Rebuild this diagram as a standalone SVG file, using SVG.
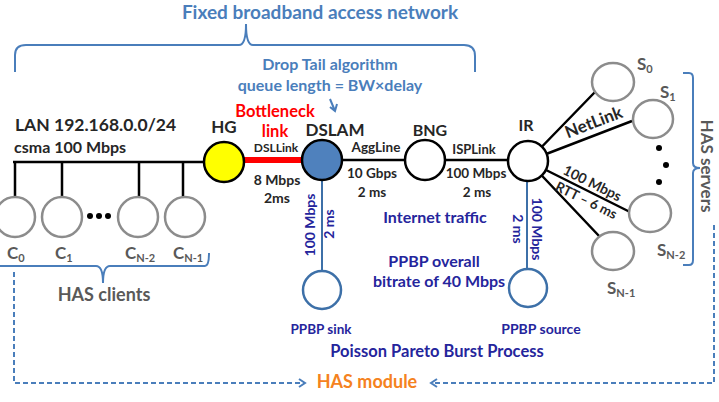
<svg xmlns="http://www.w3.org/2000/svg" width="719" height="402" viewBox="0 0 719 402">
<defs>
<style>
text{font-family:Lato,"Open Sans","Liberation Sans",sans-serif;font-weight:bold}
.bl{fill:#4a7ebb}
.nv{fill:#25259c}
.gy{fill:#595959}
.dk{fill:#262626}
.rd{fill:#ff0000}
.or{fill:#f58220}
.mid{text-anchor:middle}
.cl{fill:#fff;stroke:#8c8c8c;stroke-width:2.5}
.bk{stroke:#000;stroke-width:2.5;fill:none}
.bline{stroke:#3d70a8;stroke-width:2;fill:none}
.brace{stroke:#4a7ebb;stroke-width:2;fill:none}
.dash{stroke:#4a7ebb;stroke-width:2;fill:none;stroke-dasharray:5 3}
</style>
<marker id="chev" markerWidth="10" markerHeight="10" refX="8" refY="5" orient="auto" markerUnits="userSpaceOnUse">
<path d="M2,1 L8,5 L2,9" fill="none" stroke="#4a7ebb" stroke-width="2"/>
</marker>
</defs>

<g id="annotations">
<text class="bl mid" x="320" y="19" font-size="19">Fixed broadband access network</text>
<path class="brace" d="M15,72 L15,55 Q15,45 26,45 L239,45 Q246,45 246,24 Q246,45 253,45 L464,45 Q475,45 475,56 L475,72"/>
<text class="bl mid" x="330" y="70" font-size="16">Drop Tail algorithm</text>
<text class="bl mid" x="330" y="91" font-size="16">queue length = BW×delay</text>
<path d="M330,99 L335,111 M330,107 L335,111 L337,104" stroke="#4a7ebb" stroke-width="2" fill="none"/>
<path class="brace" d="M-2,266 L96,266 Q103,266 103,283 Q103,266 110,266 L205,266 Q209,266 209,253"/>
<text class="gy mid" x="104" y="301" font-size="18">HAS clients</text>
<path class="brace" d="M683,73 L689,73 Q693,73 693,78 L693,163 Q693,168 700,168 Q693,168 693,173 L693,260 Q693,265 689,265 L683,265"/>
<text class="gy mid" transform="translate(706,166) rotate(90)" y="5" font-size="17">HAS servers</text>
<text class="or mid" x="367" y="388" font-size="18">HAS module</text>
<text class="nv mid" x="437" y="357" font-size="16.5">Poisson Pareto Burst Process</text>
<text class="nv mid" x="435" y="223" font-size="16">Internet traffic</text>
<text class="nv mid" x="434" y="267" font-size="16">PPBP overall</text>
<text class="nv mid" x="439" y="287" font-size="16">bitrate of 40 Mbps</text>
<text class="dk" x="15" y="131" font-size="17.5">LAN 192.168.0.0/24</text>
<text class="dk" x="14" y="153" font-size="16">csma 100 Mbps</text>
</g>

<g id="connectors">
<path class="bk" d="M13,162 L205,162 M15,162 L15,198 M62,162 L62,198 M139,162 L139,198 M183,162 L183,198"/>
<line x1="244" y1="160" x2="303" y2="160" stroke="#ff0000" stroke-width="6"/>
<line class="bk" x1="342" y1="160" x2="406" y2="160"/>
<line class="bk" x1="444" y1="160" x2="510" y2="160"/>
<line class="bline" x1="322" y1="180" x2="322" y2="272"/>
<line class="bline" x1="527" y1="181" x2="527" y2="269"/>
<path class="bk" d="M528,161 L595,92 M528,161 L632,121 M528,161 L630,212 M528,161 L600,237"/>
<path class="dash" d="M14,272 L14,383 L305,383" marker-end="url(#chev)"/>
<path class="dash" d="M714,225 L714,383 L431,383" marker-end="url(#chev)"/>
<text class="dk mid" x="276" y="152" font-size="12">DSLLink</text>
<text class="dk mid" x="277" y="185" font-size="14">8 Mbps</text>
<text class="dk mid" x="277" y="203" font-size="14">2ms</text>
<text class="dk mid" x="376" y="152" font-size="13.5">AggLine</text>
<text class="dk mid" x="372" y="178" font-size="13.5">10 Gbps</text>
<text class="dk mid" x="372" y="197" font-size="13.5">2 ms</text>
<text class="dk mid" x="474" y="154" font-size="13">ISPLink</text>
<text class="dk mid" x="476" y="178" font-size="13.5">100 Mbps</text>
<text class="dk mid" x="477" y="197" font-size="13.5">2 ms</text>
<text class="nv mid" transform="translate(310,225) rotate(-90)" y="5" font-size="14">100 Mbps</text>
<text class="nv mid" transform="translate(329,224) rotate(-90)" y="5" font-size="14">2 ms</text>
<text class="nv mid" transform="translate(537,229) rotate(90)" y="5" font-size="14">100 Mbps</text>
<text class="nv mid" transform="translate(518,229) rotate(90)" y="5" font-size="14">2 ms</text>
<text class="dk mid" transform="translate(594,123) rotate(-21)" y="5" font-size="17">NetLink</text>
<text class="dk mid" transform="translate(592,184) rotate(26.5)" y="4" font-size="14">100 Mbps</text>
<text class="dk mid" transform="translate(586,201) rotate(26.5)" y="4" font-size="13.5">RTT – 6 ms</text>
</g>

<g id="C0"><ellipse class="cl" cx="15" cy="217" rx="20" ry="20"/><text class="gy" x="7" y="259" font-size="17">C<tspan font-size="11" dy="3">0</tspan></text></g>
<g id="C1"><ellipse class="cl" cx="62" cy="217" rx="20" ry="20"/><text class="gy" x="55" y="259" font-size="17">C<tspan font-size="11" dy="3">1</tspan></text></g>
<g id="dots-clients"><circle cx="90" cy="216" r="3"/><circle cx="99" cy="216" r="3"/><circle cx="108" cy="216" r="3"/></g>
<g id="CN-2"><ellipse class="cl" cx="138" cy="217" rx="20" ry="20"/><text class="gy" x="125" y="259" font-size="17">C<tspan font-size="11" dy="3">N-2</tspan></text></g>
<g id="CN-1"><ellipse class="cl" cx="185" cy="217" rx="20" ry="20"/><text class="gy" x="173" y="259" font-size="17">C<tspan font-size="11" dy="3">N-1</tspan></text></g>

<g id="HG"><circle cx="224" cy="162" r="20" fill="#ffff00" stroke="#000" stroke-width="2.5"/><text class="dk mid" x="224" y="133" font-size="17">HG</text></g>
<g id="bottleneck"><text class="rd mid" x="275" y="117" font-size="16.5">Bottleneck</text><text class="rd mid" x="275" y="137" font-size="16.5">link</text></g>
<g id="DSLAM"><circle cx="322" cy="160" r="20" fill="#4f81bd" stroke="#000" stroke-width="2.5"/><text class="dk mid" x="335" y="136" font-size="17">DSLAM</text></g>
<g id="BNG"><circle cx="425" cy="160" r="20" fill="#fff" stroke="#000" stroke-width="2.5"/><text class="dk mid" x="430" y="136" font-size="16">BNG</text></g>
<g id="IR"><circle cx="528" cy="161" r="20" fill="#fff" stroke="#000" stroke-width="2.5"/><text class="dk mid" x="526" y="131" font-size="16">IR</text></g>
<g id="PPBP-sink"><circle cx="322" cy="290" r="19" fill="#fff" stroke="#3d70a8" stroke-width="2.5"/><text class="nv mid" x="321" y="334" font-size="13.5">PPBP sink</text></g>
<g id="PPBP-source"><circle cx="528" cy="288" r="19" fill="#fff" stroke="#3d70a8" stroke-width="2.5"/><text class="nv mid" x="541" y="334" font-size="14">PPBP source</text></g>

<g id="S0"><ellipse class="cl" cx="613" cy="82" rx="21" ry="19"/><text class="gy" x="637" y="70" font-size="17">S<tspan font-size="11" dy="3">0</tspan></text></g>
<g id="S1"><ellipse class="cl" cx="653" cy="119" rx="20" ry="19"/><text class="gy" x="660" y="98" font-size="17">S<tspan font-size="11" dy="3">1</tspan></text></g>
<g id="dots-servers"><circle cx="659" cy="148" r="3"/><circle cx="666" cy="165" r="3"/><circle cx="659" cy="182" r="3"/></g>
<g id="SN-2"><ellipse class="cl" cx="650" cy="213" rx="21" ry="19"/><text class="gy" x="657" y="256" font-size="17">S<tspan font-size="11" dy="3">N-2</tspan></text></g>
<g id="SN-1"><ellipse class="cl" cx="613" cy="251" rx="21" ry="19"/><text class="gy" x="607" y="294" font-size="17">S<tspan font-size="11" dy="3">N-1</tspan></text></g>
</svg>
